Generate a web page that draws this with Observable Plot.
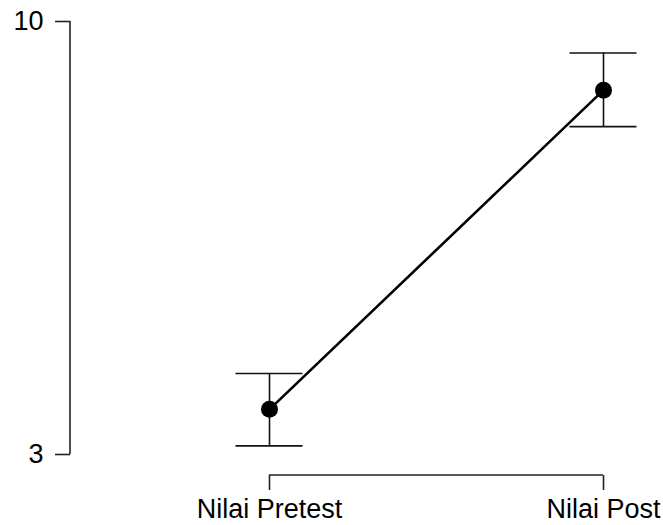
<!DOCTYPE html>
<html>
<head>
<meta charset="utf-8">
<script src="https://cdn.jsdelivr.net/npm/d3@7"></script>
<script src="https://cdn.jsdelivr.net/npm/@observablehq/plot@0.6"></script>
<style>
  html, body { margin: 0; padding: 0; background: #fff; }
</style>
</head>
<body>
<div id="chart"></div>
<script>
const categories = ["Nilai Pretest", "Nilai Post"];
const means = [3.73, 8.89];
const lower = [3.14, 8.30];
const upper = [4.31, 9.49];
const yTicks = [3, 10];

const data = categories.map((c, i) => ({cat: c, mean: means[i], lo: lower[i], hi: upper[i]}));

const W = 663, H = 525, ML = 70, MB = 50;

function axisLines(index, scales, values, dimensions) {
  const g = d3.create("svg:g").attr("stroke", "#222").attr("stroke-width", 1.6).attr("fill", "none");
  const x0 = dimensions.marginLeft;
  g.append("line").attr("x1", x0).attr("x2", x0)
    .attr("y1", scales.y(yTicks[0])).attr("y2", scales.y(yTicks[yTicks.length - 1]));
  const yb = dimensions.height - dimensions.marginBottom;
  g.append("line").attr("y1", yb).attr("y2", yb)
    .attr("x1", scales.x(categories[0])).attr("x2", scales.x(categories[categories.length - 1]));
  return g.node();
}

const chart = Plot.plot({
  width: W,
  height: H,
  marginLeft: ML,
  marginBottom: MB,
  marginTop: 0,
  marginRight: 0,
  style: {fontFamily: "'Liberation Sans', Arial, sans-serif", fontSize: "27px", color: "#000", background: "#fff", overflow: "visible"},
  x: {type: "point", domain: categories, range: [269, 603], padding: 0},
  y: {domain: [3, 10], range: [454, 21]},
  marks: [
    axisLines,
    Plot.axisY(yTicks, {tickSize: 15, tickPadding: 12, fontSize: 27, strokeWidth: 1.6, stroke: "#222", label: null, tickFormat: d3.format("d")}),
    Plot.axisX(categories, {tickSize: 15, tickPadding: 8, fontSize: 27, strokeWidth: 1.6, stroke: "#222", label: null}),
    Plot.ruleX(data, {x: "cat", y1: "lo", y2: "hi", stroke: "#111", strokeWidth: 1.6}),
    Plot.ruleY(data, {x1: "cat", x2: "cat", y: "lo", insetLeft: -33.5, insetRight: -33.5, stroke: "#111", strokeWidth: 1.6}),
    Plot.ruleY(data, {x1: "cat", x2: "cat", y: "hi", insetLeft: -33.5, insetRight: -33.5, stroke: "#111", strokeWidth: 1.6}),
    Plot.line(data, {x: "cat", y: "mean", stroke: "#000", strokeWidth: 2.6}),
    Plot.dot(data, {x: "cat", y: "mean", r: 8.5, fill: "#000", stroke: "none"})
  ]
});
document.getElementById("chart").append(chart);
</script>
</body>
</html>
